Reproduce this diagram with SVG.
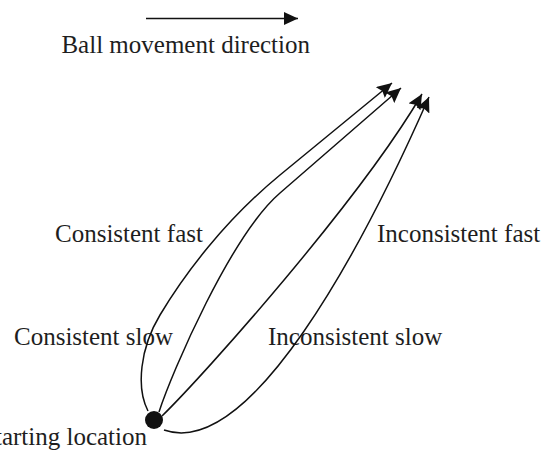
<svg xmlns="http://www.w3.org/2000/svg" width="555" height="452" viewBox="0 0 555 452">
  <style>
    .lbl { font-family: "Liberation Serif", "Times New Roman", serif; font-size: 25px; fill: #1e1e1e; }
    .curve { fill: none; stroke: #111; stroke-width: 1.5; }
  </style>
  <defs>
    <marker id="head" viewBox="0 0 15 14" refX="15" refY="7" markerWidth="15" markerHeight="14" markerUnits="userSpaceOnUse" orient="auto">
      <path d="M0,0 L15,7 L0,14 L2.5,7 z" fill="#111"/>
    </marker>
    <marker id="legendHead" viewBox="0 0 14 13" refX="14" refY="6.5" markerWidth="14" markerHeight="13" markerUnits="userSpaceOnUse" orient="auto">
      <path d="M0,0 L14,6.5 L0,13 z" fill="#111"/>
    </marker>
  </defs>
  <rect width="555" height="452" fill="#fff"/>

  <g id="legend">
    <path class="curve" d="M146,18.5 L298,18.5" marker-end="url(#legendHead)"/>
    <text class="lbl" x="310" y="53" text-anchor="end">Ball movement direction</text>
  </g>

  <g id="start">
    <circle cx="154" cy="420" r="9" fill="#111"/>
    <text class="lbl" x="147" y="445" text-anchor="end">Starting location</text>
  </g>

  <g id="consistent-fast">
    <text class="lbl" x="55" y="242">Consistent fast</text>
  </g>
  <g id="consistent-slow">
    <text class="lbl" x="14" y="345">Consistent slow</text>
  </g>
  <g id="inconsistent-fast">
    <text class="lbl" x="377" y="242">Inconsistent fast</text>
  </g>
  <g id="inconsistent-slow">
    <text class="lbl" x="268" y="345">Inconsistent slow</text>
  </g>

  <g id="connectors">
    <path class="curve" d="M148,411 C136,388 140,348 160,315 C184,275 224,221 280,175 L392,83" marker-end="url(#head)"/>
    <path class="curve" d="M159,412 C172,372 231,235 280,193 L401,88" marker-end="url(#head)"/>
    <path class="curve" d="M162,416 C205,374 360,200 422,94" marker-end="url(#head)"/>
    <path class="curve" d="M164,430 C250,460 362,249 429,97" marker-end="url(#head)"/>
  </g>
</svg>
